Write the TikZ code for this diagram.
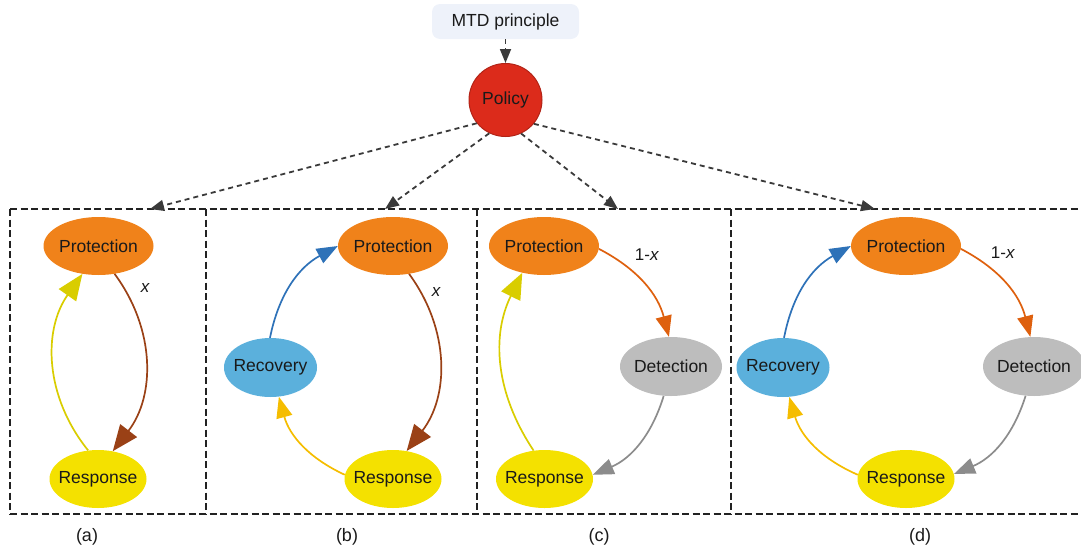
\documentclass[tikz,border=0pt]{standalone}
\usepackage{fontspec}
\setmainfont{Liberation Sans}
\usetikzlibrary{arrows.meta,shapes.geometric}
\definecolor{txt}{HTML}{1A1A1A}
\definecolor{cProt}{HTML}{F0821A}
\definecolor{cResp}{HTML}{F4E100}
\definecolor{cReco}{HTML}{5BB0DC}
\definecolor{cDete}{HTML}{BDBDBD}
\definecolor{cPol}{HTML}{DC2B1B}
\definecolor{cPolB}{HTML}{B22417}
\definecolor{cMtd}{HTML}{EEF2FA}
\definecolor{cFrame}{HTML}{222222}
\definecolor{cDash}{HTML}{3A3A3A}
\definecolor{aBrown}{HTML}{9A4116}
\definecolor{aOlive}{HTML}{D9CD00}
\definecolor{aOrange}{HTML}{DE600E}
\definecolor{aGray}{HTML}{8C8C8C}
\definecolor{aBlue}{HTML}{2E72B8}
\definecolor{aAmber}{HTML}{F5BD00}
\newcommand{\zw}[1]{\makebox[0pt]{#1}}
\tikzset{
  state/.style={ellipse, inner sep=0pt, minimum height=58pt, text=txt, font=\fontsize{17.5}{20}\selectfont},
  prot/.style={state, fill=cProt, minimum width=110pt},
  resp/.style={state, fill=cResp, minimum width=97pt},
  reco/.style={state, fill=cReco, minimum width=93pt, minimum height=59pt},
  dete/.style={state, fill=cDete, minimum width=102pt, minimum height=59pt},
  frame/.style={draw=cFrame, line width=1.6pt, dash pattern=on 7pt off 3.5pt},
  bigtip/.style={line width=1.7pt, -{Triangle[length=26pt,width=21pt]}},
  smalltip/.style={line width=1.7pt, -{Triangle[length=21pt,width=16pt]}},
  ctrl/.style={draw=cDash, line width=1.8pt, dash pattern=on 5pt off 4pt, -{Triangle[length=14pt,width=11pt]}},
  lbl/.style={text=txt, font=\fontsize{17}{20}\selectfont, inner sep=0pt},
  captxt/.style={text=txt, font=\fontsize{18}{20}\selectfont, inner sep=0pt}
}
\begin{document}
\begin{tikzpicture}[x=1pt,y=-1pt]
\useasboundingbox (0,0) rectangle (1081,552);
\clip (0,0) rectangle (1081,552);
% frames
\draw[frame] (10,209) -- (1100,209);
\draw[frame] (10,514) -- (1100,514);
\draw[frame] (10,209) -- (10,514);
\draw[frame] (206,209) -- (206,514);
\draw[frame] (477,209) -- (477,514);
\draw[frame] (731,209) -- (731,514);
% top
\node[fill=cMtd, rounded corners=8pt, minimum width=147pt, minimum height=35pt, inner sep=0pt, text=txt, font=\fontsize{17.5}{20}\selectfont] (mtd) at (505.5,21.5) {MTD principle};
\node[circle, fill=cPol, draw=cPolB, line width=1pt, minimum size=73pt, inner sep=0pt, text=txt, font=\fontsize{17.5}{20}\selectfont] (pol) at (505.5,100) {Policy};
\draw[ctrl] (mtd.south) -- (pol.north);
\coordinate (ta) at (150,209);
\coordinate (tb) at (385,209);
\coordinate (tc) at (618,209);
\coordinate (td) at (875,209);
\draw[ctrl] (pol.-141) -- (ta);
\draw[ctrl] (pol.-116) -- (tb);
\draw[ctrl] (pol.-65) -- (tc);
\draw[ctrl] (pol.-40) -- (td);
% (a)
\node[prot] (pa) at (98.5,246) {\zw{Protection}};
\node[resp] (ra) at (98,479) {\zw{Response}};
\draw[bigtip, aBrown] (pa.-60) to[bend left=37] (ra.62);
\draw[bigtip, aOlive] (ra.109) to[bend left=37] (pa.-120);
\node[lbl] (xa) at (145,288) {\itshape x};
% (b)
\node[prot] (pb) at (393,246) {\zw{Protection}};
\node[reco] (vb) at (270.5,367.5) {\zw{Recovery}};
\node[resp] (rb) at (393,479) {\zw{Response}};
\draw[bigtip, aBrown] (pb.-60) to[bend left=37] (rb.64);
\draw[smalltip, aBlue] (vb.91) to[bend left=25] (pb.180);
\draw[smalltip, aAmber] (rb.175) to[bend left=25] (vb.-74);
\node[lbl] (xb) at (436,292) {\itshape x};
% (c)
\node[prot] (pc) at (544,246) {\zw{Protection}};
\node[dete] (dc) at (671,366.5) {\zw{Detection}};
\node[resp] (rc) at (544.5,479) {\zw{Response}};
\draw[smalltip, aOrange] (pc.-3) to[bend left=24] (dc.94);
\draw[smalltip, aGray] (dc.-104) to[bend left=25] (rc.5);
\draw[bigtip, aOlive] (rc.111) to[bend left=30] (pc.-129);
\node[lbl] (xc) at (647,255) {1-\textit{x}};
% (d)
\node[prot] (pd) at (906,246) {\zw{Protection}};
\node[reco] (vd) at (783,367.5) {\zw{Recovery}};
\node[dete] (dd) at (1034,366.5) {\zw{Detection}};
\node[resp] (rd) at (906,479) {\zw{Response}};
\draw[smalltip, aOrange] (pd.-3) to[bend left=24] (dd.97);
\draw[smalltip, aGray] (dd.-106) to[bend left=25] (rd.6);
\draw[smalltip, aAmber] (rd.175) to[bend left=25] (vd.-78);
\draw[smalltip, aBlue] (vd.88) to[bend left=25] (pd.180);
\node[lbl] (xd) at (1003,253) {1-\textit{x}};
% captions
\node[captxt] (ca) at (87,537) {(a)};
\node[captxt] (cb) at (347,537) {(b)};
\node[captxt] (cc) at (599,537) {(c)};
\node[captxt] (cd) at (920,537) {(d)};
\end{tikzpicture}
\end{document}
